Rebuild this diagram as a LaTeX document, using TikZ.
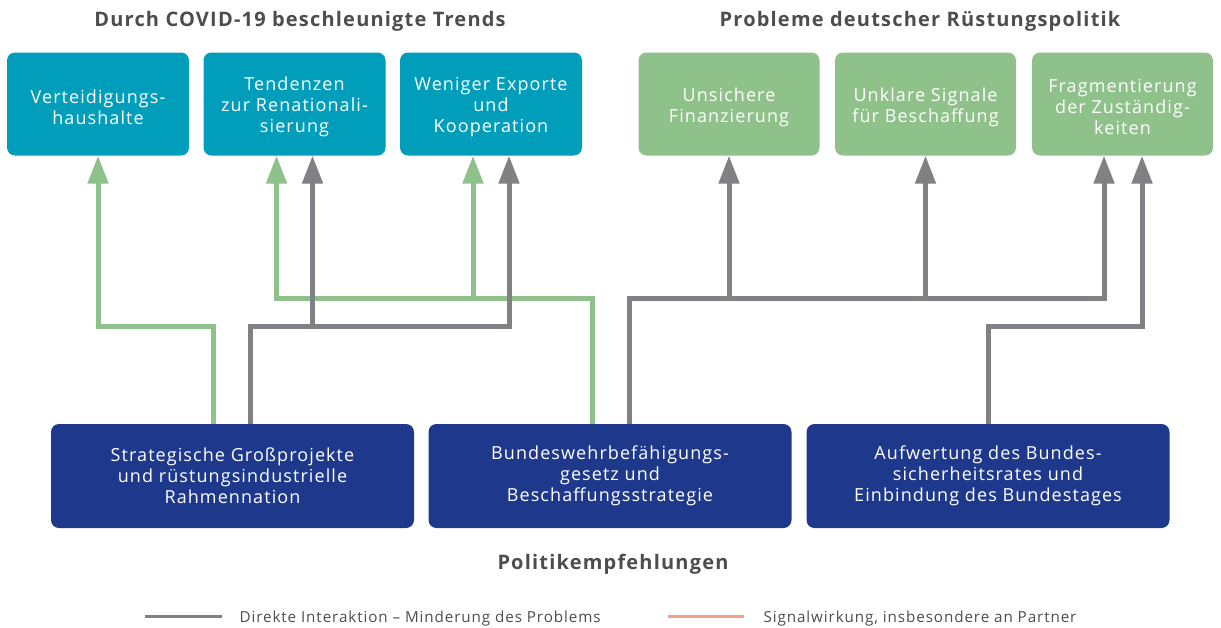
\documentclass[tikz,border=0pt]{standalone}
\usepackage{fontspec}
\setmainfont{Open Sans}[LetterSpace=6]
\usetikzlibrary{arrows.meta}
\definecolor{teal}{RGB}{0,158,187}
\definecolor{probgreen}{RGB}{143,193,138}
\definecolor{navy}{RGB}{30,57,140}
\definecolor{arrgray}{RGB}{128,128,133}
\definecolor{salmon}{RGB}{244,160,136}
\definecolor{titlegray}{RGB}{77,77,77}
\begin{document}
\begin{tikzpicture}[x=1pt,y=-1pt,
  boxtext/.style={inner sep=0pt, align=center, text=white,
    font=\fontsize{18}{21}\selectfont},
  box/.style={rounded corners=8pt, inner sep=0pt, boxtext},
  trend/.style={box, fill=teal, minimum width=182pt, minimum height=103pt},
  prob/.style={box, fill=probgreen, minimum width=181pt, minimum height=103pt},
  reco/.style={box, fill=navy, minimum width=363pt, minimum height=104pt},
  toptext/.style={label={[boxtext, yshift=-3pt]center:#1}},
  conn/.style={line width=5pt, -{Triangle[width=20pt,length=28pt]}},
  gline/.style={conn, draw=probgreen},
  kline/.style={conn, draw=arrgray},
  plain/.style={line width=5pt},
  heading/.style={text=titlegray, font=\fontsize{20}{23}\selectfont\bfseries},
  legtext/.style={text=titlegray, anchor=west, font=\fontsize{15.2}{17}\selectfont},
]
\useasboundingbox (0,0) rectangle (1221,627);
% top row
\node[trend, toptext={Verteidigungs-\\haushalte}] (t1) at (98,104) {};
\node[trend, toptext={Tendenzen\\zur Renationali-\\sierung}] (t2) at (294.5,104) {};
\node[trend, toptext={Weniger Exporte\\und\\Kooperation}] (t3) at (491,104) {};
\node[prob, toptext={Unsichere\\Finanzierung}] (t4) at (729,104) {};
\node[prob, toptext={Unklare Signale\\für Beschaffung}] (t5) at (925.5,104) {};
\node[prob, toptext={Fragmentierung\\der Zuständig-\\keiten}] (t6) at (1122.5,104) {};
% bottom row
\node[reco] (A) at (232.5,476) {Strategische Großprojekte\\und rüstungsindustrielle\\Rahmennation};
\node[reco] (B) at (610,476) {Bundeswehrbefähigungs-\\gesetz und\\Beschaffungsstrategie};
\node[reco] (C) at (988,476) {Aufwertung des Bundes-\\sicherheitsrates und\\Einbindung des Bundestages};
% headings
\node[heading] (h1) at (300,21) {Durch COVID-19 beschleunigte Trends};
\node[heading] (h2) at (920,21) {Probleme deutscher Rüstungspolitik};
\node[heading] (h3) at (613,564.5) {Politikempfehlungen};
% levels
\coordinate (ylow) at (0,326);
\coordinate (yhigh) at (0,298);
% green connectors
\draw[gline] ([xshift=-19.5pt]A.north) |- (t1.south |- ylow) -- (t1.south);
\draw[gline] ([xshift=-18pt]B.north) |- ([xshift=-18pt]t2.south |- yhigh) -- ([xshift=-18pt]t2.south);
\draw[gline] ([xshift=-18pt]t3.south |- yhigh) -- ([xshift=-18pt]t3.south);
% gray connectors
\draw[kline] ([xshift=17.5pt]A.north) |- ([xshift=18pt]t3.south |- ylow) -- ([xshift=18pt]t3.south);
\draw[kline] ([xshift=18pt]t2.south |- ylow) -- ([xshift=18pt]t2.south);
\draw[kline] ([xshift=19pt]B.north) |- ([xshift=-18.5pt]t6.south |- yhigh) -- ([xshift=-18.5pt]t6.south);
\draw[kline] (t4.south |- yhigh) -- (t4.south);
\draw[kline] (t5.south |- yhigh) -- (t5.south);
\draw[kline] (C.north) |- ([xshift=19.5pt]t6.south |- ylow) -- ([xshift=19.5pt]t6.south);
% legend
\coordinate (l1a) at (145,616);
\coordinate (l1b) at (222,616);
\coordinate (l2a) at (668,616);
\coordinate (l2b) at (744,616);
\draw[plain, draw=arrgray, line width=3pt] (l1a) -- (l1b);
\draw[plain, draw=salmon, line width=3pt] (l2a) -- (l2b);
\node[legtext] (lt1) at (236,618.5) {Direkte Interaktion – Minderung des Problems};
\node[legtext] (lt2) at (760,618.5) {Signalwirkung, insbesondere an Partner};
\end{tikzpicture}
\end{document}
